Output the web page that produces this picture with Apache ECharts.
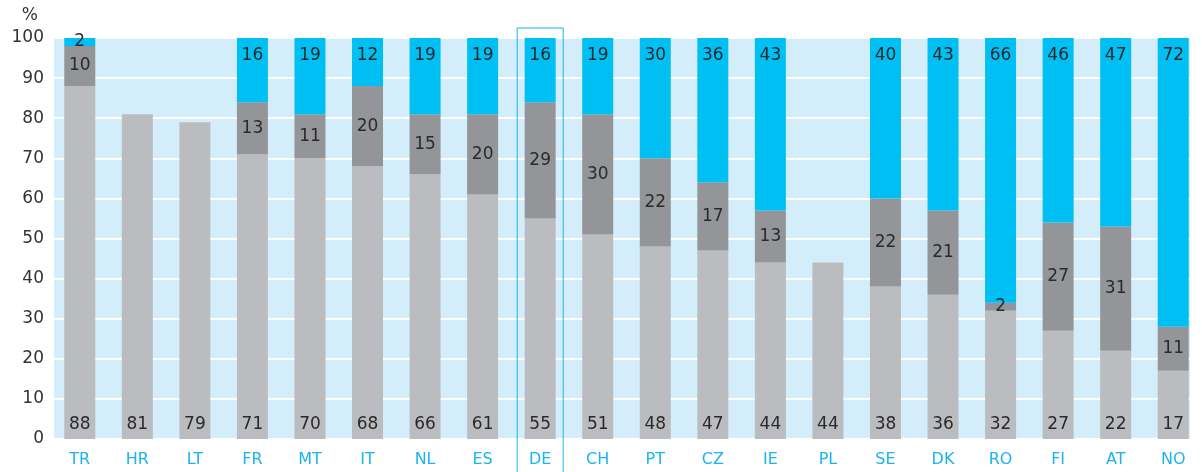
<!DOCTYPE html>
<html>
<head>
<meta charset="utf-8">
<script src="https://cdn.jsdelivr.net/npm/echarts@6/dist/echarts.min.js"></script>
<style>
  html, body { margin: 0; padding: 0; background: #fff; }
  #chart { width: 1202px; height: 472px; }
</style>
</head>
<body>
<div id="chart"></div>
<script>
// data
const countries = ['TR', 'HR', 'LT', 'FR', 'MT', 'IT', 'NL', 'ES', 'DE', 'CH',
  'PT', 'CZ', 'IE', 'PL', 'SE', 'DK', 'RO', 'FI', 'AT', 'NO']
const lowerPart = [88, 81, 79, 71, 70, 68, 66, 61, 55, 51, 48, 47, 44, 44, 38, 36, 32, 27, 22, 17]
const middlePart = [10, null, null, 13, 11, 20, 15, 20, 29, 30, 22, 17, 13, null, 22, 21, 2, 27, 31, 11]
const upperPart = [2, null, null, 16, 19, 12, 19, 19, 16, 19, 30, 36, 43, null, 40, 43, 66, 46, 47, 72]
const yTicks = [0, 10, 20, 30, 40, 50, 60, 70, 80, 90, 100]
const highlight = 'DE'

const font = 'DejaVu Sans'
const labelStyle = { color: '#2a2a2a', fontSize: 17, fontFamily: font }

const chart = echarts.init(document.getElementById('chart'))

function barSeries(data, color, position, distance) {
  return {
    type: 'bar',
    stack: 'total',
    xAxisIndex: 1,
    yAxisIndex: 1,
    barWidth: 31,
    // thin segments get their label centred on the segment
    data: data.map(v => (v != null && v < 5 ? { value: v, label: { position: 'top', distance: -12 } } : v)),
    itemStyle: { color: color },
    label: {
      show: true,
      position: position,
      distance: distance,
      ...labelStyle,
      formatter: p => (p.value == null ? '' : p.value)
    }
  }
}

chart.setOption({
  animation: false,
  grid: [
    // light blue plot background
    { left: 54, right: 12, top: 38, bottom: 33, show: true, backgroundColor: '#d3eefa', borderWidth: 0 },
    // bars
    { left: 51, right: 0, top: 38, bottom: 33 }
  ],
  xAxis: [
    { type: 'value', gridIndex: 0, show: false },
    {
      type: 'category',
      gridIndex: 1,
      data: countries,
      axisLine: { show: false },
      axisTick: { show: false },
      axisLabel: { color: '#1ab4ee', fontSize: 16, fontFamily: font, margin: 13 }
    }
  ],
  yAxis: [
    {
      type: 'value',
      gridIndex: 0,
      min: yTicks[0],
      max: yTicks[yTicks.length - 1],
      interval: 10,
      name: '%',
      nameLocation: 'end',
      nameGap: 14,
      nameTextStyle: { color: '#333', fontSize: 17, fontFamily: font, align: 'right', padding: [0, 16, 0, 0] },
      axisLine: { show: false },
      axisTick: { show: false },
      axisLabel: { color: '#333', fontSize: 17, fontFamily: font, margin: 10 },
      splitLine: { lineStyle: { color: '#ffffff', width: 2 } }
    },
    { type: 'value', gridIndex: 1, min: 0, max: 100, show: false }
  ],
  series: [
    barSeries(lowerPart, '#bbbcc0', 'insideBottom', 6),
    barSeries(middlePart, '#939599', 'inside', 0),
    barSeries(upperPart, '#00bff3', 'insideTop', 9)
  ]
})

// outline box around the highlighted country, placed from the axis
const boxAnchor = chart.convertToPixel({ xAxisIndex: 1, yAxisIndex: 1 }, [highlight, 100])
chart.setOption({
  graphic: [{
    type: 'rect',
    shape: { x: boxAnchor[0] - 23, y: boxAnchor[1] - 10, width: 46, height: 480 },
    style: { fill: 'none', stroke: '#1ab4ee', lineWidth: 1 },
    z: 100
  }]
})
</script>
</body>
</html>
